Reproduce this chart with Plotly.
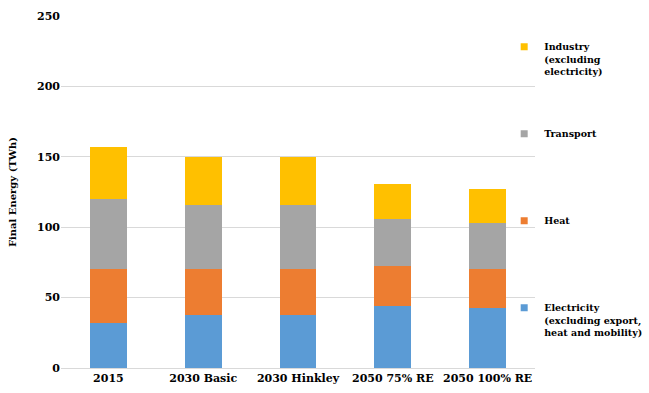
import plotly.graph_objects as go

# Scenario categories
scenarios = ["2015", "2030 Basic", "2030 Hinkley", "2050 75% RE", "2050 100% RE"]

# Final energy by sector (TWh), stacked bottom to top
electricity = [32, 37.5, 37.5, 44, 42.5]
heat = [38, 33, 33, 28.5, 27.5]
transport = [50, 45.5, 45.5, 33, 33]
industry = [37, 34, 34, 25.5, 24]

y_ticks = [0, 50, 100, 150, 200, 250]

series = [
    ("Electricity", "Electricity<br>(excluding export,<br>heat and mobility)", electricity, "#5B9BD5"),
    ("Heat", "Heat<br>&nbsp;<br>&nbsp;", heat, "#ED7D31"),
    ("Transport", "Transport<br>&nbsp;<br>&nbsp;", transport, "#A5A5A5"),
    ("Industry", "Industry<br>(excluding<br>electricity)", industry, "#FFC000"),
]

font_family = "DejaVu Serif"

fig = go.Figure()
for i, (short, label, vals, color) in enumerate(series):
    fig.add_trace(go.Bar(
        x=scenarios, y=vals, name=short,
        marker=dict(color=color, line=dict(width=0)),
        showlegend=False,
    ))
for i, (short, label, vals, color) in enumerate(series):
    # small square keys for the legend, top entry first
    fig.add_trace(go.Scatter(
        x=[None], y=[None], mode="markers", name=label,
        marker=dict(symbol="square", size=7, color=color),
        legendgroup=f"g{i}", legendrank=100 - i, hoverinfo="skip",
    ))

fig.update_layout(
    barmode="stack",
    bargap=0.61,
    width=649, height=393,
    margin=dict(l=61, r=114, t=16, b=25, autoexpand=False),
    paper_bgcolor="white", plot_bgcolor="white",
    font=dict(family=font_family, size=11, color="#000000"),
    legend=dict(
        traceorder="grouped",
        x=0.935, xanchor="left", y=0.949, yanchor="top",
        valign="top",
        tracegroupgap=47,
        itemwidth=30,
        font=dict(family=font_family, size=9.5, color="#000000", weight="bold"),
        bgcolor="rgba(0,0,0,0)",
    ),
    showlegend=True,
)
fig.update_xaxes(
    showline=True, linecolor="#D9D9D9", linewidth=1,
    ticks="", tickfont=dict(family=font_family, size=11, weight="bold"),
    showgrid=False,
)
fig.update_yaxes(
    range=[0, 250], tickvals=y_ticks,
    showgrid=True, gridcolor="#D9D9D9", gridwidth=1,
    zeroline=False, showline=False, ticks="",
    tickfont=dict(family=font_family, size=11, weight="bold"),
    title=dict(text="Final Energy (TWh)",
               font=dict(family=font_family, size=10, weight="bold"),
               standoff=18),
)

fig.write_html("out.html")
